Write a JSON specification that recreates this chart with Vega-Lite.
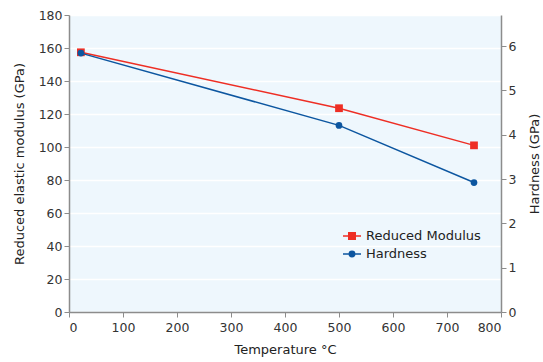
{
  "$schema": "https://vega.github.io/schema/vega-lite/v6.json",
  "autosize": "none",
  "width": 432,
  "height": 297,
  "padding": {"left": 69, "top": 15, "right": 42, "bottom": 50},
  "background": "white",
  "config": {
    "view": {"fill": "#eef7fd", "stroke": null},
    "font": "DejaVu Sans",
    "axis": {
      "labelFont": "DejaVu Sans",
      "titleFont": "DejaVu Sans",
      "labelFontSize": 12.5,
      "titleFontSize": 13,
      "titleFontWeight": "normal",
      "labelColor": "#333333",
      "titleColor": "#222222",
      "domainColor": "#8c8c8c",
      "domainWidth": 1.5,
      "tickColor": "#8c8c8c",
      "tickSize": 5,
      "gridColor": "#ffffff",
      "gridWidth": 1.5,
      "labelOverlap": false
    }
  },
  "data": {
    "values": [
      {"temp": 22, "modulus": 157.4, "hardness": 5.84},
      {"temp": 500, "modulus": 123.5, "hardness": 4.21},
      {"temp": 750, "modulus": 101, "hardness": 2.92}
    ]
  },
  "encoding": {
    "x": {
      "field": "temp",
      "type": "quantitative",
      "scale": {"domain": [0, 800], "nice": false},
      "axis": {"title": "Temperature °C", "values": [0,100,200,300,400,500,600,700,800], "grid": false, "labelPadding": 4, "titlePadding": 10}
    }
  },
  "layer": [
    {
      "mark": {"type": "line", "strokeWidth": 1.5, "point": {"shape": "square", "filled": true, "size": 60, "opacity": 1}},
      "encoding": {
        "y": {
          "field": "modulus",
          "type": "quantitative",
          "scale": {"domain": [0, 180], "nice": false},
          "axis": {"title": "Reduced elastic modulus (GPa)", "values": [0,20,40,60,80,100,120,140,160,180], "grid": true, "orient": "left", "titlePadding": 12}
        },
        "color": {
          "datum": "Reduced Modulus",
          "type": "nominal",
          "scale": {"domain": ["Reduced Modulus", "Hardness"], "range": ["#ee2e24", "#0c56a0"]},
          "legend": {
            "title": null,
            "orient": "none",
            "legendX": 273,
            "legendY": 211,
            "labelFont": "DejaVu Sans",
            "labelFontSize": 13,
            "labelColor": "#222222",
            "symbolSize": 324,
            "symbolStrokeWidth": 1.5,
            "rowPadding": 1,
            "labelOffset": 4,
            "encode": {
              "symbols": {
                "update": {
                  "shape": {"signal": "datum.value === 'Reduced Modulus' ? 'M-1,0H1M-0.36,-0.36H0.36V0.36H-0.36Z' : 'M-1,0H1M0.3,0A0.3,0.3,0,1,1,-0.3,0A0.3,0.3,0,1,1,0.3,0Z'"},
                  "fill": {"signal": "datum.value === 'Reduced Modulus' ? '#ee2e24' : '#0c56a0'"},
                  "stroke": {"signal": "datum.value === 'Reduced Modulus' ? '#ee2e24' : '#0c56a0'"},
                  "opacity": {"value": 1},
                  "fillOpacity": {"value": 1}
                }
              }
            }
          }
        }
      }
    },
    {
      "mark": {"type": "line", "strokeWidth": 1.5, "point": {"shape": "circle", "filled": true, "size": 45, "opacity": 1}},
      "encoding": {
        "y": {
          "field": "hardness",
          "type": "quantitative",
          "scale": {"domain": [0, 6.7], "nice": false},
          "axis": {"title": "Hardness (GPa)", "values": [0,1,2,3,4,5,6], "grid": false, "orient": "right", "titlePadding": 13, "titleAngle": 270, "titleBaseline": "top"}
        },
        "color": {"datum": "Hardness", "type": "nominal"}
      }
    }
  ],
  "resolve": {"scale": {"y": "independent"}}
}
